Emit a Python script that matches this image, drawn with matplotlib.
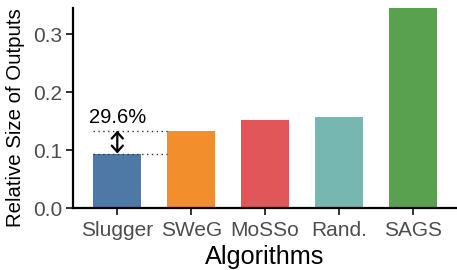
import matplotlib
matplotlib.use("Agg")
import matplotlib.pyplot as plt

algorithms = ["Slugger", "SWeG", "MoSSo", "Rand.", "SAGS"]
relative_size = [0.094, 0.1335, 0.151, 0.157, 0.345]
colors = ["#4E79A7", "#F28E2B", "#E15759", "#76B7B2", "#59A14F"]
gap_label = "29.6%"

plt.rcParams["font.family"] = ["Liberation Sans", "DejaVu Sans"]

fig = plt.figure(figsize=(4.57, 2.70), dpi=100)
ax = fig.add_axes([73 / 457, 62 / 270, 384 / 457, 200 / 270])

x = list(range(len(algorithms)))
bar_width = 0.65
ax.bar(x, relative_size, width=bar_width, color=colors)

# dotted guides between Slugger and SWeG
left = x[0] - bar_width / 2
right = x[1] - bar_width / 2
for level in relative_size[:2]:
    ax.plot([left, right], [level, level], color="#333333", linestyle=(0, (1, 2.5)), linewidth=1)

ax.annotate("", xy=(x[0], relative_size[0]), xytext=(x[0], relative_size[1]),
            arrowprops=dict(arrowstyle="<->,head_length=0.45,head_width=0.4", color="black",
                            lw=1.6, shrinkA=0, shrinkB=0, mutation_scale=10))
ax.text(x[0], relative_size[1] + 0.006, gap_label, ha="center", va="bottom", fontsize=14.5)

ax.set_xlim(-0.6, 4.6)
ax.set_ylim(0, 0.345)
ax.set_yticks([0.0, 0.1, 0.2, 0.3])
ax.set_xticks(x)
ax.set_xticklabels(algorithms)

for side in ["top", "right"]:
    ax.spines[side].set_visible(False)
for side in ["left", "bottom"]:
    ax.spines[side].set_linewidth(1.6)

ax.tick_params(axis="both", colors="#333333", labelcolor="#4D4D4D", labelsize=15, width=1.4, length=5)
ax.tick_params(axis="x", pad=4)
ax.tick_params(axis="y", pad=3)
ax.set_xlabel("Algorithms", fontsize=18.2)
ax.set_ylabel("Relative Size of Outputs", fontsize=14.7)
ax.xaxis.set_label_coords(0.5, -0.185)
ax.yaxis.set_label_coords(-0.125, 0.45)

fig.savefig("out.png", dpi=100)
